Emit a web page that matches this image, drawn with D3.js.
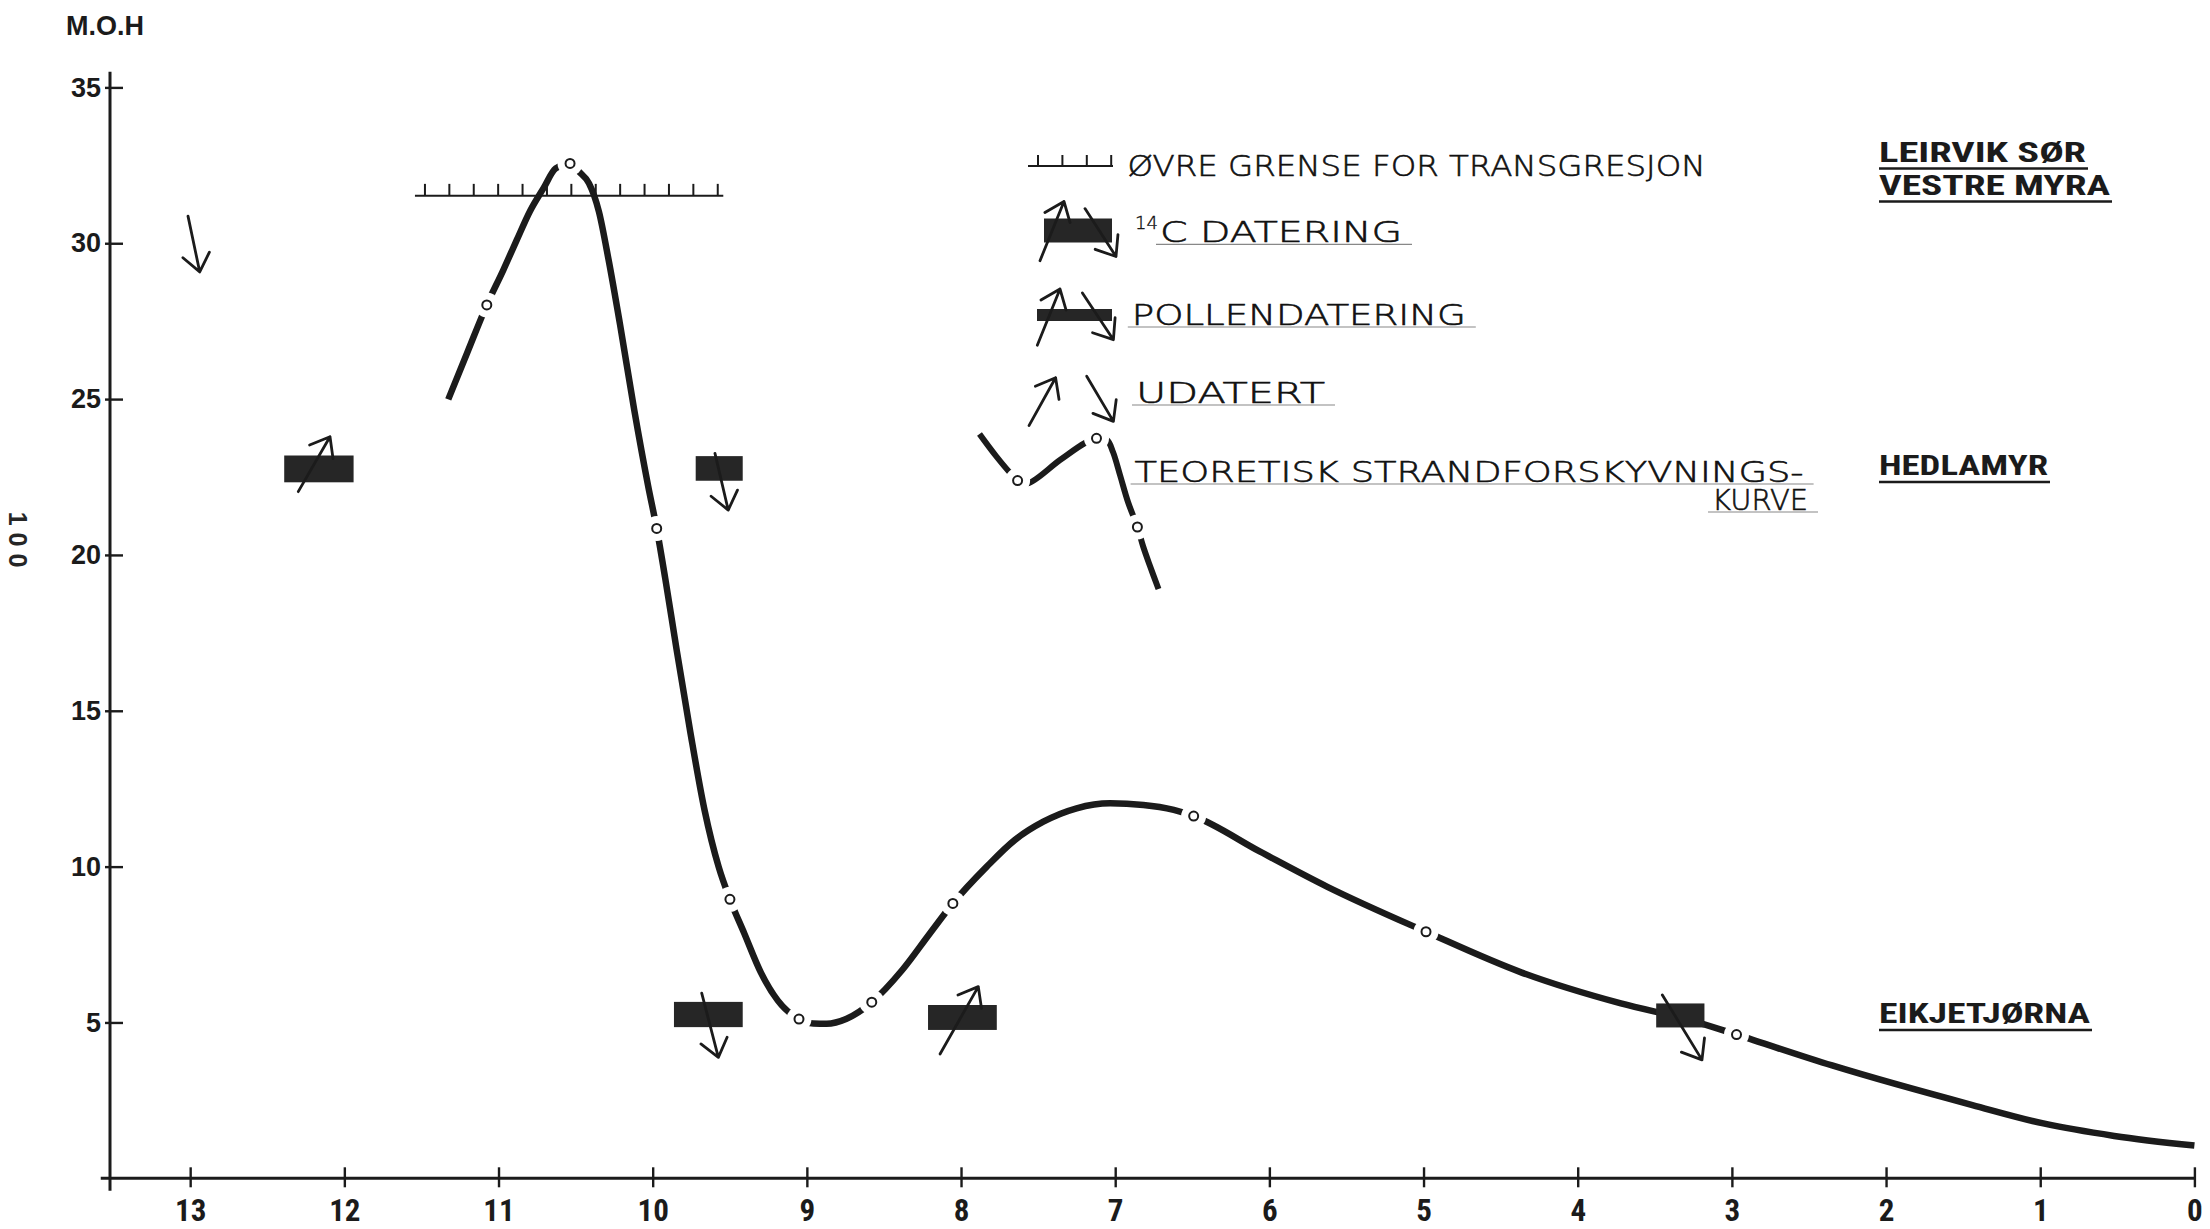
<!DOCTYPE html>
<html>
<head>
<meta charset="utf-8">
<script src="https://cdn.jsdelivr.net/npm/d3@7"></script>
<style>
  html, body { margin: 0; padding: 0; background: #ffffff; }
  svg { display: block; }
</style>
</head>
<body>
<svg id="chart" width="2210" height="1229"></svg>
<script>
// ---- Axis ticks -------------------------------------------------------
const ageTicks = [13, 12, 11, 10, 9, 8, 7, 6, 5, 4, 3, 2, 1, 0];   // 1000 years BP
const heightTicks = [5, 10, 15, 20, 25, 30, 35];                      // m o.h.

// ---- Theoretical shoreline displacement curve (age, height) -----------
const curveAge = [11.326, 11.201, 11.076, 10.969, 10.882, 10.796, 10.709, 10.629, 10.536,
  10.477, 10.413, 10.349, 10.285, 10.212, 10.121, 10.029, 9.974,
  9.919, 9.846, 9.755, 9.663, 9.572, 9.499, 9.407, 9.298, 9.188, 9.051,
  8.958, 8.872, 8.742, 8.579, 8.380, 8.200, 8.053, 7.833, 7.652, 7.466, 7.250,
  7.033, 6.817, 6.620, 6.491, 6.060, 5.627, 4.984, 4.363, 3.720, 3.260, 2.970,
  2.350, 1.440, 0.980, 0.520, 0.000];
const curveHeight = [24.99, 26.51, 28.02, 29.14, 30.10, 31.03, 31.76, 32.40, 32.56,
  32.29, 31.92, 31.02, 29.44, 27.40, 24.69, 22.20, 20.85,
  19.26, 17.00, 14.29, 11.80, 9.99, 8.95, 7.87, 6.60, 5.70, 5.11,
  4.97, 4.96, 5.12, 5.65, 6.69, 7.87, 8.82, 10.00, 10.85, 11.44, 11.87,
  12.03, 11.98, 11.82, 11.62, 10.48, 9.36, 7.91, 6.60, 5.61, 5.06, 4.61,
  3.62, 2.35, 1.76, 1.36, 1.05];

// Sample points marked on the curve
const sampleAge = [11.076, 10.536, 9.974, 9.499, 9.051, 8.579, 8.053, 6.491, 4.984, 2.970];
const sampleHeight = [28.02, 32.56, 20.85, 8.95, 5.11, 5.65, 8.82, 11.62, 7.91, 4.61];

// ---- 14C datings: age span and height span -----------------------------
const datingAgeOld = [12.39, 9.721, 9.862, 8.214, 3.491];
const datingAgeYoung = [11.94, 9.416, 9.416, 7.768, 3.178];
const datingHeightTop = [23.19, 23.17, 5.66, 5.56, 5.61];
const datingHeightBottom = [22.33, 22.38, 4.85, 4.76, 4.84];

// ---- Transgression / regression arrows (tail -> tip) -------------------
const arrowTailAge = [12.299, 9.596, 9.682, 8.136, 3.451, 13.014];
const arrowTailHeight = [22.03, 23.26, 5.94, 3.99, 5.88, 30.87];
const arrowTipAge = [12.093, 9.510, 9.574, 7.888, 3.194, 12.938];
const arrowTipHeight = [23.79, 21.44, 3.88, 6.15, 3.80, 29.08];

// ---- Upper limit of the transgression ----------------------------------
const limitAgeFrom = 11.542;
const limitAgeTo = 9.542;
const limitHeight = 31.52;

// ---- Site names, placed at their elevation -----------------------------
const siteLines = [["LEIRVIK SØR", 161.5, 207], ["VESTRE MYRA", 194.5, 231],
                   ["HEDLAMYR", 475, 169], ["EIKJETJØRNA", 1023, 211]];

// ---- Legend texts -------------------------------------------------------
const legendTexts = ["ØVRE GRENSE FOR TRANSGRESJON", "C DATERING", "POLLENDATERING",
                     "UDATERT", "TEORETISK STRANDFORSKYVNINGS-", "KURVE"];

// ========================================================================
const ink = "#1b1b1b";
const svg = d3.select("#chart");
svg.append("rect").attr("width", 2210).attr("height", 1229).attr("fill", "#ffffff");

const x = d3.scaleLinear().domain([13.52, 0]).range([110, 2194.4]);
const y = d3.scaleLinear().domain([0, 35]).range([1178.3, 87.4]);

const boldSans = "'Liberation Sans', Arial, Helvetica, sans-serif";
const narrowSans = "'Liberation Sans Narrow', 'Arial Narrow', 'Roboto Condensed', 'Liberation Sans', sans-serif";
const handFont = "'DejaVu Sans ExtraLight', 'DejaVu Sans Light', 'DejaVu Sans', sans-serif";

// ---- Axes ---------------------------------------------------------------
svg.append("line")
  .attr("x1", x(13.58)).attr("x2", x(-0.01))
  .attr("y1", y(0)).attr("y2", y(0))
  .attr("stroke", ink).attr("stroke-width", 3);
svg.append("line")
  .attr("x1", x(13.52)).attr("x2", x(13.52))
  .attr("y1", y(35.5)).attr("y2", y(-0.4))
  .attr("stroke", ink).attr("stroke-width", 3);

const gx = svg.append("g")
  .attr("transform", `translate(0,${y(0)})`)
  .call(d3.axisBottom(x).tickValues(ageTicks).tickSize(9).tickPadding(12).tickFormat(d3.format("d")));
gx.select(".domain").remove();
gx.selectAll(".tick line").attr("y1", -11).attr("stroke", ink).attr("stroke-width", 2.4);
gx.selectAll(".tick text")
  .attr("font-family", narrowSans).attr("font-weight", "bold")
  .attr("font-size", 31).attr("fill", ink);

const gy = svg.append("g")
  .attr("transform", `translate(${x(13.52)},0)`)
  .call(d3.axisLeft(y).tickValues(heightTicks).tickSize(-13).tickPadding(9).tickFormat(d3.format("d")));
gy.select(".domain").remove();
gy.selectAll(".tick line").attr("x1", -5).attr("stroke", ink).attr("stroke-width", 2.4);
gy.selectAll(".tick text")
  .attr("font-family", boldSans).attr("font-weight", "bold")
  .attr("font-size", 27).attr("fill", ink);

svg.append("text")
  .attr("x", 66).attr("y", 35)
  .attr("font-family", boldSans).attr("font-weight", "bold")
  .attr("font-size", 27).attr("fill", ink)
  .text("M.O.H");

svg.append("text")
  .attr("transform", "translate(18,543) rotate(90)")
  .attr("text-anchor", "middle").attr("dominant-baseline", "central")
  .attr("font-family", boldSans).attr("font-weight", "bold").attr("font-size", 25)
  .attr("letter-spacing", 7).attr("fill", "#262626")
  .text("100");

// ---- Helpers ------------------------------------------------------------
function arrowPath(x1, y1, x2, y2, len = 22, ang = 38 * Math.PI / 180) {
  const a = Math.atan2(y1 - y2, x1 - x2);
  const p = d3.path();
  p.moveTo(x1, y1); p.lineTo(x2, y2);
  p.moveTo(x2 + len * Math.cos(a + ang), y2 + len * Math.sin(a + ang));
  p.lineTo(x2, y2);
  p.lineTo(x2 + len * Math.cos(a - ang), y2 + len * Math.sin(a - ang));
  return p.toString();
}
function drawArrow(g, x1, y1, x2, y2) {
  g.append("path").attr("d", arrowPath(x1, y1, x2, y2))
    .attr("fill", "none").attr("stroke", ink).attr("stroke-width", 2.8)
    .attr("stroke-linecap", "round").attr("stroke-linejoin", "round");
}
function hatchedLine(g, x1, x2, yy, step, tickH) {
  g.append("line").attr("x1", x1).attr("x2", x2).attr("y1", yy).attr("y2", yy)
    .attr("stroke", ink).attr("stroke-width", 2);
  const n = Math.floor((x2 - x1 - 10) / step);
  d3.range(n + 1).forEach(i => {
    const tx = x1 + 10 + i * step;
    g.append("line").attr("x1", tx).attr("x2", tx).attr("y1", yy).attr("y2", yy - tickH)
      .attr("stroke", ink).attr("stroke-width", 2);
  });
}
function curveWithRings(g, pts, rings, width, curveType) {
  g.append("path")
    .attr("d", d3.line().curve(curveType)(pts))
    .attr("fill", "none").attr("stroke", ink).attr("stroke-width", width)
    .attr("stroke-linecap", "butt");
  rings.forEach(([cx, cy]) => {
    g.append("circle").attr("cx", cx).attr("cy", cy).attr("r", 12.5).attr("fill", "#ffffff");
  });
  rings.forEach(([cx, cy]) => {
    g.append("circle").attr("cx", cx).attr("cy", cy).attr("r", 4.5)
      .attr("fill", "#ffffff").attr("stroke", ink).attr("stroke-width", 2);
  });
}

// ---- Shoreline curve ----------------------------------------------------
const plot = svg.append("g");
const curvePts = curveAge.map((a, i) => [x(a), y(curveHeight[i])]);
const ringPts = sampleAge.map((a, i) => [x(a), y(sampleHeight[i])]);
curveWithRings(plot, curvePts, ringPts, 6.5, d3.curveMonotoneX);

// Upper limit of the transgression
hatchedLine(plot, x(limitAgeFrom), x(limitAgeTo), y(limitHeight), 24.4, 12);

// 14C dating boxes
plot.selectAll("rect.dating")
  .data(datingAgeOld.map((a, i) => i))
  .join("rect")
  .attr("class", "dating")
  .attr("x", i => x(datingAgeOld[i]))
  .attr("y", i => y(datingHeightTop[i]))
  .attr("width", i => x(datingAgeYoung[i]) - x(datingAgeOld[i]))
  .attr("height", i => y(datingHeightBottom[i]) - y(datingHeightTop[i]))
  .attr("fill", "#262626");

// Arrows
arrowTailAge.forEach((a, i) => {
  drawArrow(plot, x(a), y(arrowTailHeight[i]), x(arrowTipAge[i]), y(arrowTipHeight[i]));
});

// ---- Legend -------------------------------------------------------------
const legend = svg.append("g");
hatchedLine(legend, 1028, 1113, 166, 24.4, 11);

legend.append("rect").attr("x", 1044).attr("y", 218.5).attr("width", 68).attr("height", 24)
  .attr("fill", "#262626");
drawArrow(legend, 1040, 260.7, 1064, 201.5);
drawArrow(legend, 1085, 208.6, 1116, 256.5);

legend.append("rect").attr("x", 1037).attr("y", 309).attr("width", 75).attr("height", 12)
  .attr("fill", "#262626");
drawArrow(legend, 1037.3, 345.3, 1060, 289);
drawArrow(legend, 1082.4, 293, 1113.4, 339.7);

drawArrow(legend, 1029, 425.6, 1055.6, 377.7);
drawArrow(legend, 1086.7, 376.3, 1113.4, 421.4);

curveWithRings(legend,
  [[979.5, 434], [996, 456], [1012, 475], [1017.6, 480.6], [1027.5, 483.4], [1060, 460],
   [1085, 443], [1096.5, 438.3], [1107, 440], [1113, 452], [1120, 475], [1128, 502],
   [1137.4, 527], [1143, 546], [1150, 566], [1158.5, 589]],
  [[1017.6, 480.6], [1096.5, 438.3], [1137.4, 527]], 6, d3.curveCatmullRom.alpha(0.5));

// Legend lettering: [text, x, baseline, width, underline]
const legendLayout = [
  [legendTexts[0], 1127.5, 176, 578, false],
  [legendTexts[1], 1160, 242.4, 242, true],
  [legendTexts[2], 1131.8, 325, 334, true],
  [legendTexts[3], 1136, 403, 189, true],
  [legendTexts[4], 1134.6, 482, 669, true],
  [legendTexts[5], 1712, 510, 96, true]
];
legendLayout.forEach(([t, lx, ly, lw, ul]) => {
  legend.append("text")
    .attr("x", lx).attr("y", ly)
    .attr("font-family", handFont).attr("font-weight", 200)
    .attr("font-size", 29).attr("fill", "#111")
    .attr("stroke", "#111").attr("stroke-width", 0.6)
    .attr("textLength", lw).attr("lengthAdjust", "spacingAndGlyphs")
    .text(t);
  if (ul) {
    legend.append("line")
      .attr("x1", lx - 4).attr("x2", lx + lw + 10)
      .attr("y1", ly + 2).attr("y2", ly + 2)
      .attr("stroke", "#888").attr("stroke-width", 1.2);
  }
});
legend.append("text")
  .attr("x", 1135).attr("y", 229)
  .attr("font-family", handFont).attr("font-weight", 200)
  .attr("font-size", 18).attr("fill", "#111")
  .attr("stroke", "#111").attr("stroke-width", 0.4)
  .text("14");

// ---- Site names ---------------------------------------------------------
siteLines.forEach(([t, by, w]) => {
  svg.append("text")
    .attr("x", 1879).attr("y", by)
    .attr("font-family", narrowSans).attr("font-weight", "bold")
    .attr("font-size", 28).attr("fill", ink)
    .attr("textLength", w).attr("lengthAdjust", "spacingAndGlyphs")
    .text(t);
  svg.append("line")
    .attr("x1", 1879).attr("x2", 1879 + w + 2)
    .attr("y1", by + 7).attr("y2", by + 7)
    .attr("stroke", ink).attr("stroke-width", 2.6);
});
</script>
</body>
</html>
